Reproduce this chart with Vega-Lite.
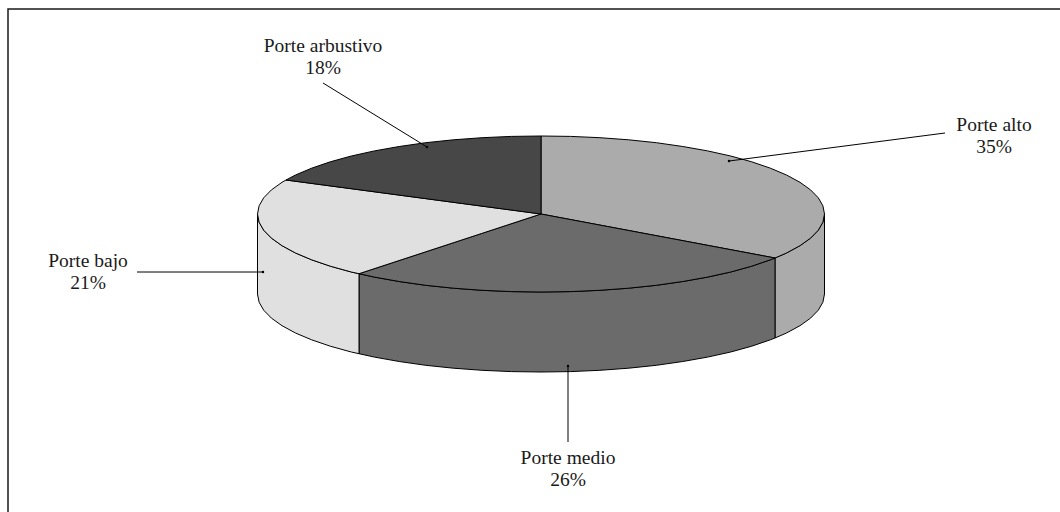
{"$schema":"https://vega.github.io/schema/vega-lite/v6.json","width":1060,"height":512,"padding":0,"autosize":{"type":"none"},"background":"white","config":{"view":{"stroke":null},"axis":{"grid":false}},
"datasets":{
"frame":[{"seq":0,"x":519,"y":205},{"seq":1,"x":-533,"y":205},{"seq":2,"x":-533,"y":-298}],
"faces":[
{"slice":"Porte alto","face":"side","seq":0,"x":283.5,"y":0},{"slice":"Porte alto","face":"side","seq":1,"x":281.9,"y":-8.2},{"slice":"Porte alto","face":"side","seq":2,"x":277.3,"y":-16.2},{"slice":"Porte alto","face":"side","seq":3,"x":269.6,"y":-24.1},{"slice":"Porte alto","face":"side","seq":4,"x":259,"y":-31.7},{"slice":"Porte alto","face":"side","seq":5,"x":245.5,"y":-39},{"slice":"Porte alto","face":"side","seq":6,"x":234,"y":-44},{"slice":"Porte alto","face":"side","seq":7,"x":234,"y":-124},{"slice":"Porte alto","face":"side","seq":8,"x":245.5,"y":-119},{"slice":"Porte alto","face":"side","seq":9,"x":259,"y":-111.7},{"slice":"Porte alto","face":"side","seq":10,"x":269.6,"y":-104.1},{"slice":"Porte alto","face":"side","seq":11,"x":277.3,"y":-96.2},{"slice":"Porte alto","face":"side","seq":12,"x":281.9,"y":-88.2},{"slice":"Porte alto","face":"side","seq":13,"x":283.5,"y":-80},{"slice":"Porte alto","face":"side","seq":14,"x":283.5,"y":0},
{"slice":"Porte medio","face":"side","seq":0,"x":234,"y":-44},{"slice":"Porte medio","face":"side","seq":1,"x":229.4,"y":-45.8},{"slice":"Porte medio","face":"side","seq":2,"x":210.7,"y":-52.2},{"slice":"Porte medio","face":"side","seq":3,"x":189.7,"y":-58},{"slice":"Porte medio","face":"side","seq":4,"x":166.6,"y":-63.1},{"slice":"Porte medio","face":"side","seq":5,"x":141.8,"y":-67.5},{"slice":"Porte medio","face":"side","seq":6,"x":115.3,"y":-71.3},{"slice":"Porte medio","face":"side","seq":7,"x":87.6,"y":-74.2},{"slice":"Porte medio","face":"side","seq":8,"x":58.9,"y":-76.3},{"slice":"Porte medio","face":"side","seq":9,"x":29.6,"y":-77.6},{"slice":"Porte medio","face":"side","seq":10,"x":0,"y":-78},{"slice":"Porte medio","face":"side","seq":11,"x":-29.6,"y":-77.6},{"slice":"Porte medio","face":"side","seq":12,"x":-58.9,"y":-76.3},{"slice":"Porte medio","face":"side","seq":13,"x":-87.6,"y":-74.2},{"slice":"Porte medio","face":"side","seq":14,"x":-115.3,"y":-71.3},{"slice":"Porte medio","face":"side","seq":15,"x":-141.8,"y":-67.5},{"slice":"Porte medio","face":"side","seq":16,"x":-166.6,"y":-63.1},{"slice":"Porte medio","face":"side","seq":17,"x":-182,"y":-59.7},{"slice":"Porte medio","face":"side","seq":18,"x":-182,"y":-139.7},{"slice":"Porte medio","face":"side","seq":19,"x":-166.6,"y":-143.1},{"slice":"Porte medio","face":"side","seq":20,"x":-141.8,"y":-147.5},{"slice":"Porte medio","face":"side","seq":21,"x":-115.3,"y":-151.3},{"slice":"Porte medio","face":"side","seq":22,"x":-87.6,"y":-154.2},{"slice":"Porte medio","face":"side","seq":23,"x":-58.9,"y":-156.3},{"slice":"Porte medio","face":"side","seq":24,"x":-29.6,"y":-157.6},{"slice":"Porte medio","face":"side","seq":25,"x":0,"y":-158},{"slice":"Porte medio","face":"side","seq":26,"x":29.6,"y":-157.6},{"slice":"Porte medio","face":"side","seq":27,"x":58.9,"y":-156.3},{"slice":"Porte medio","face":"side","seq":28,"x":87.6,"y":-154.2},{"slice":"Porte medio","face":"side","seq":29,"x":115.3,"y":-151.3},{"slice":"Porte medio","face":"side","seq":30,"x":141.8,"y":-147.5},{"slice":"Porte medio","face":"side","seq":31,"x":166.6,"y":-143.1},{"slice":"Porte medio","face":"side","seq":32,"x":189.7,"y":-138},{"slice":"Porte medio","face":"side","seq":33,"x":210.7,"y":-132.2},{"slice":"Porte medio","face":"side","seq":34,"x":229.4,"y":-125.8},{"slice":"Porte medio","face":"side","seq":35,"x":234,"y":-124},{"slice":"Porte medio","face":"side","seq":36,"x":234,"y":-44},
{"slice":"Porte bajo","face":"side","seq":0,"x":-182,"y":-59.7},{"slice":"Porte bajo","face":"side","seq":1,"x":-189.7,"y":-58},{"slice":"Porte bajo","face":"side","seq":2,"x":-210.7,"y":-52.2},{"slice":"Porte bajo","face":"side","seq":3,"x":-229.4,"y":-45.8},{"slice":"Porte bajo","face":"side","seq":4,"x":-245.5,"y":-39},{"slice":"Porte bajo","face":"side","seq":5,"x":-259,"y":-31.7},{"slice":"Porte bajo","face":"side","seq":6,"x":-269.6,"y":-24.1},{"slice":"Porte bajo","face":"side","seq":7,"x":-277.3,"y":-16.2},{"slice":"Porte bajo","face":"side","seq":8,"x":-281.9,"y":-8.2},{"slice":"Porte bajo","face":"side","seq":9,"x":-283.5,"y":0},{"slice":"Porte bajo","face":"side","seq":10,"x":-283.5,"y":-80},{"slice":"Porte bajo","face":"side","seq":11,"x":-281.9,"y":-88.2},{"slice":"Porte bajo","face":"side","seq":12,"x":-277.3,"y":-96.2},{"slice":"Porte bajo","face":"side","seq":13,"x":-269.6,"y":-104.1},{"slice":"Porte bajo","face":"side","seq":14,"x":-259,"y":-111.7},{"slice":"Porte bajo","face":"side","seq":15,"x":-245.5,"y":-119},{"slice":"Porte bajo","face":"side","seq":16,"x":-229.4,"y":-125.8},{"slice":"Porte bajo","face":"side","seq":17,"x":-210.7,"y":-132.2},{"slice":"Porte bajo","face":"side","seq":18,"x":-189.7,"y":-138},{"slice":"Porte bajo","face":"side","seq":19,"x":-182,"y":-139.7},{"slice":"Porte bajo","face":"side","seq":20,"x":-182,"y":-59.7},
{"slice":"Porte alto","face":"top","seq":0,"x":0,"y":0},{"slice":"Porte alto","face":"top","seq":1,"x":0,"y":78},{"slice":"Porte alto","face":"top","seq":2,"x":29.6,"y":77.6},{"slice":"Porte alto","face":"top","seq":3,"x":58.9,"y":76.3},{"slice":"Porte alto","face":"top","seq":4,"x":87.6,"y":74.2},{"slice":"Porte alto","face":"top","seq":5,"x":115.3,"y":71.3},{"slice":"Porte alto","face":"top","seq":6,"x":141.8,"y":67.5},{"slice":"Porte alto","face":"top","seq":7,"x":166.6,"y":63.1},{"slice":"Porte alto","face":"top","seq":8,"x":189.7,"y":58},{"slice":"Porte alto","face":"top","seq":9,"x":210.7,"y":52.2},{"slice":"Porte alto","face":"top","seq":10,"x":229.4,"y":45.8},{"slice":"Porte alto","face":"top","seq":11,"x":245.5,"y":39},{"slice":"Porte alto","face":"top","seq":12,"x":259,"y":31.7},{"slice":"Porte alto","face":"top","seq":13,"x":269.6,"y":24.1},{"slice":"Porte alto","face":"top","seq":14,"x":277.3,"y":16.2},{"slice":"Porte alto","face":"top","seq":15,"x":281.9,"y":8.2},{"slice":"Porte alto","face":"top","seq":16,"x":283.5,"y":0},{"slice":"Porte alto","face":"top","seq":17,"x":281.9,"y":-8.2},{"slice":"Porte alto","face":"top","seq":18,"x":277.3,"y":-16.2},{"slice":"Porte alto","face":"top","seq":19,"x":269.6,"y":-24.1},{"slice":"Porte alto","face":"top","seq":20,"x":259,"y":-31.7},{"slice":"Porte alto","face":"top","seq":21,"x":245.5,"y":-39},{"slice":"Porte alto","face":"top","seq":22,"x":234,"y":-44},{"slice":"Porte alto","face":"top","seq":23,"x":0,"y":0},
{"slice":"Porte medio","face":"top","seq":0,"x":0,"y":0},{"slice":"Porte medio","face":"top","seq":1,"x":234,"y":-44},{"slice":"Porte medio","face":"top","seq":2,"x":229.4,"y":-45.8},{"slice":"Porte medio","face":"top","seq":3,"x":210.7,"y":-52.2},{"slice":"Porte medio","face":"top","seq":4,"x":189.7,"y":-58},{"slice":"Porte medio","face":"top","seq":5,"x":166.6,"y":-63.1},{"slice":"Porte medio","face":"top","seq":6,"x":141.8,"y":-67.5},{"slice":"Porte medio","face":"top","seq":7,"x":115.3,"y":-71.3},{"slice":"Porte medio","face":"top","seq":8,"x":87.6,"y":-74.2},{"slice":"Porte medio","face":"top","seq":9,"x":58.9,"y":-76.3},{"slice":"Porte medio","face":"top","seq":10,"x":29.6,"y":-77.6},{"slice":"Porte medio","face":"top","seq":11,"x":0,"y":-78},{"slice":"Porte medio","face":"top","seq":12,"x":-29.6,"y":-77.6},{"slice":"Porte medio","face":"top","seq":13,"x":-58.9,"y":-76.3},{"slice":"Porte medio","face":"top","seq":14,"x":-87.6,"y":-74.2},{"slice":"Porte medio","face":"top","seq":15,"x":-115.3,"y":-71.3},{"slice":"Porte medio","face":"top","seq":16,"x":-141.8,"y":-67.5},{"slice":"Porte medio","face":"top","seq":17,"x":-166.6,"y":-63.1},{"slice":"Porte medio","face":"top","seq":18,"x":-182,"y":-59.7},{"slice":"Porte medio","face":"top","seq":19,"x":0,"y":0},
{"slice":"Porte bajo","face":"top","seq":0,"x":0,"y":0},{"slice":"Porte bajo","face":"top","seq":1,"x":-182,"y":-59.7},{"slice":"Porte bajo","face":"top","seq":2,"x":-189.7,"y":-58},{"slice":"Porte bajo","face":"top","seq":3,"x":-210.7,"y":-52.2},{"slice":"Porte bajo","face":"top","seq":4,"x":-229.4,"y":-45.8},{"slice":"Porte bajo","face":"top","seq":5,"x":-245.5,"y":-39},{"slice":"Porte bajo","face":"top","seq":6,"x":-259,"y":-31.7},{"slice":"Porte bajo","face":"top","seq":7,"x":-269.6,"y":-24.1},{"slice":"Porte bajo","face":"top","seq":8,"x":-277.3,"y":-16.2},{"slice":"Porte bajo","face":"top","seq":9,"x":-281.9,"y":-8.2},{"slice":"Porte bajo","face":"top","seq":10,"x":-283.5,"y":0},{"slice":"Porte bajo","face":"top","seq":11,"x":-281.9,"y":8.2},{"slice":"Porte bajo","face":"top","seq":12,"x":-277.3,"y":16.2},{"slice":"Porte bajo","face":"top","seq":13,"x":-269.6,"y":24.1},{"slice":"Porte bajo","face":"top","seq":14,"x":-259,"y":31.7},{"slice":"Porte bajo","face":"top","seq":15,"x":-255,"y":34},{"slice":"Porte bajo","face":"top","seq":16,"x":0,"y":0},
{"slice":"Porte arbustivo","face":"top","seq":0,"x":0,"y":0},{"slice":"Porte arbustivo","face":"top","seq":1,"x":-255,"y":34},{"slice":"Porte arbustivo","face":"top","seq":2,"x":-245.5,"y":39},{"slice":"Porte arbustivo","face":"top","seq":3,"x":-229.4,"y":45.8},{"slice":"Porte arbustivo","face":"top","seq":4,"x":-210.7,"y":52.2},{"slice":"Porte arbustivo","face":"top","seq":5,"x":-189.7,"y":58},{"slice":"Porte arbustivo","face":"top","seq":6,"x":-166.6,"y":63.1},{"slice":"Porte arbustivo","face":"top","seq":7,"x":-141.8,"y":67.5},{"slice":"Porte arbustivo","face":"top","seq":8,"x":-115.3,"y":71.3},{"slice":"Porte arbustivo","face":"top","seq":9,"x":-87.6,"y":74.2},{"slice":"Porte arbustivo","face":"top","seq":10,"x":-58.9,"y":76.3},{"slice":"Porte arbustivo","face":"top","seq":11,"x":-29.6,"y":77.6},{"slice":"Porte arbustivo","face":"top","seq":12,"x":0,"y":78},{"slice":"Porte arbustivo","face":"top","seq":13,"x":0,"y":0}
],
"leaders":[
{"slice":"Porte alto","seq":0,"x":404,"y":81,"tip":false},{"slice":"Porte alto","seq":1,"x":188,"y":53,"tip":true},
{"slice":"Porte medio","seq":0,"x":27,"y":-228,"tip":false},{"slice":"Porte medio","seq":1,"x":27,"y":-152,"tip":true},
{"slice":"Porte bajo","seq":0,"x":-404,"y":-58,"tip":false},{"slice":"Porte bajo","seq":1,"x":-278,"y":-58,"tip":true},
{"slice":"Porte arbustivo","seq":0,"x":-218,"y":131,"tip":false},{"slice":"Porte arbustivo","seq":1,"x":-114,"y":67,"tip":true}
],
"labels":[
{"label":"Porte alto\n35%","x":453,"y":83},
{"label":"Porte medio\n26%","x":27,"y":-250},
{"label":"Porte bajo\n21%","x":-453,"y":-53},
{"label":"Porte arbustivo\n18%","x":-218,"y":162}
]},
"encoding":{
"x":{"field":"x","type":"quantitative","scale":{"domain":[-541,519],"nice":false,"zero":false},"axis":null},
"y":{"field":"y","type":"quantitative","scale":{"domain":[-298,214],"nice":false,"zero":false},"axis":null}
},
"layer":[
{"data":{"name":"frame"},"mark":{"type":"line","stroke":"#1a1a1a","strokeWidth":1.5,"clip":false},"encoding":{"order":{"field":"seq"}}},
{"data":{"name":"faces"},"mark":{"type":"line","stroke":"black","strokeWidth":1,"strokeJoin":"miter"},"encoding":{"fill":{"field":"slice","type":"nominal","legend":null,"scale":{"domain":["Porte alto","Porte medio","Porte bajo","Porte arbustivo"],"range":["#ababab","#6b6b6b","#e0e0e0","#474747"]}},"detail":{"field":"face"},"order":{"field":"seq"}}},
{"data":{"name":"leaders"},"mark":{"type":"line","stroke":"black","strokeWidth":1},"encoding":{"detail":{"field":"slice"},"order":{"field":"seq"}}},
{"data":{"name":"leaders"},"transform":[{"filter":"datum.tip"}],"mark":{"type":"point","filled":true,"fill":"black","stroke":null,"size":6,"opacity":1}},
{"data":{"name":"labels"},"mark":{"type":"text","font":"Liberation Serif","fontSize":19.5,"lineHeight":22,"lineBreak":"\n","align":"center","baseline":"alphabetic","fill":"#1a1a1a"},"encoding":{"text":{"field":"label"}}}
]}
